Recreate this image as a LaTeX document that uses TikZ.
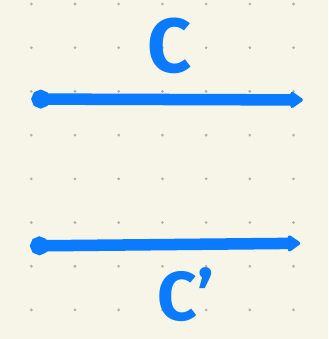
\documentclass[tikz,border=0pt]{standalone}
\usepackage{fontspec}
\setmainfont{Fira Sans}
\usetikzlibrary{arrows.meta,positioning}
\definecolor{paper}{HTML}{F7F4E8}
\definecolor{pen}{HTML}{0A7AFF}
\definecolor{griddot}{HTML}{B5B1A8}

\begin{document}
\begin{tikzpicture}[
    stroke/.style={pen, line width=7.5pt, line cap=round,
      {Circle[length=12pt]}-{Triangle[round,length=9pt,width=12pt]}},
    lbl/.style={pen, font=\fontsize{50}{50}\selectfont\bfseries, inner sep=0pt}]
  \useasboundingbox (0,0) rectangle (7.506,7.757);
  \fill[paper] (0,0) rectangle (7.506,7.757);
  \foreach \i in {0,...,6} {
    \foreach \j in {0,...,7} {
      \fill[griddot] (0.716+\i, 0.665+\j) circle (0.035);
    }
  }
  \coordinate (c1) at (0.72,5.49);
  \coordinate (c2) at (6.93,5.47);
  \coordinate (d1) at (0.69,2.13);
  \coordinate (d2) at (6.87,2.19);
  \draw[stroke] (c1) -- (c2);
  \draw[stroke] (d1) -- (d2);
  \node[lbl] (C) at (3.89,6.705) {C};
  \node[lbl, font=\fontsize{45}{45}\selectfont\bfseries] (Cp) at (4.25,1.02) {C'};
\end{tikzpicture}
\end{document}
